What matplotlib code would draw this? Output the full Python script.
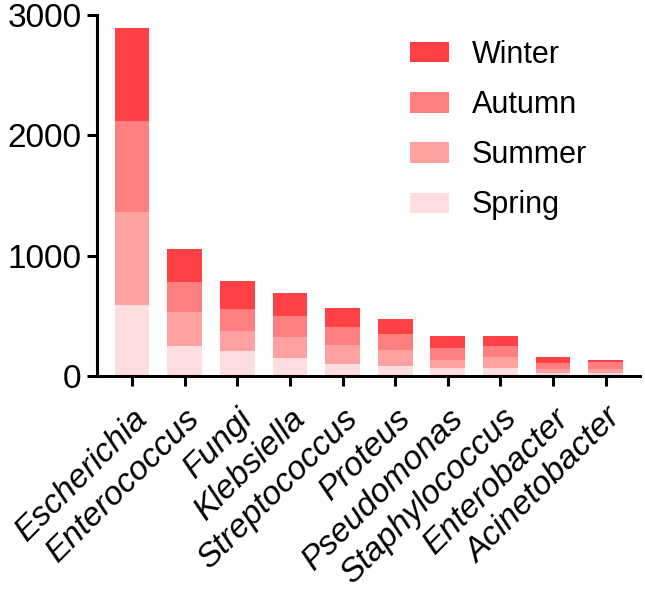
import matplotlib
matplotlib.use('Agg')
import matplotlib.pyplot as plt
import numpy as np

plt.rcParams['font.family'] = ['Liberation Sans', 'DejaVu Sans']

# data
genera = ['Escherichia', 'Enterococcus', 'Fungi', 'Klebsiella', 'Streptococcus',
          'Proteus', 'Pseudomonas', 'Staphylococcus', 'Enterobacter', 'Acinetobacter']
spring = [595, 250, 207, 149, 107, 85, 73, 73, 25, 25]
summer = [768, 281, 167, 179, 152, 133, 66, 91, 40, 33]
autumn = [752, 254, 188, 176, 154, 132, 95, 89, 47, 64]
winter = [778, 270, 229, 190, 155, 130, 102, 83, 50, 17]
yticks = [0, 1000, 2000, 3000]

seasons = [('Spring', spring, '#FFDEE0'),
           ('Summer', summer, '#FFA0A1'),
           ('Autumn', autumn, '#FF7F80'),
           ('Winter', winter, '#FF4044')]

fig = plt.figure(figsize=(6.45, 5.9), dpi=100)
ax = fig.add_axes([0.150, 0.362, 0.842, 0.613])

x = np.arange(len(genera))
bottom = np.zeros(len(genera))
handles = []
for name, vals, col in seasons:
    b = ax.bar(x, vals, width=0.66, bottom=bottom, color=col, label=name, linewidth=0)
    bottom += np.array(vals)
    handles.append(b)

ax.set_ylim(0, 3000)
ax.set_xlim(-0.67, 9.65)
ax.set_yticks(yticks)
ax.set_yticklabels([str(t) for t in yticks], fontsize=24)
ax.set_xticks(x)
ax.set_xticklabels(genera, rotation=45, ha='right', rotation_mode='anchor',
                   fontsize=24, style='italic')

for s in ['top', 'right']:
    ax.spines[s].set_visible(False)
for s in ['left', 'bottom']:
    ax.spines[s].set_linewidth(2.2)
ax.tick_params(axis='both', width=2.2, length=7, color='black')
ax.tick_params(axis='y', pad=4)
ax.tick_params(axis='x', pad=12)

# legend, Winter on top
leg = fig.legend(handles[::-1], [h.get_label() for h in handles[::-1]],
                 loc='upper left', bbox_to_anchor=(410 / 645, 1 - 40 / 590),
                 frameon=False, fontsize=22, borderpad=0, borderaxespad=0,
                 handlelength=1.27, handleheight=0.65, handletextpad=0.75,
                 labelspacing=0.66)

fig.savefig('out.png', dpi=100)
